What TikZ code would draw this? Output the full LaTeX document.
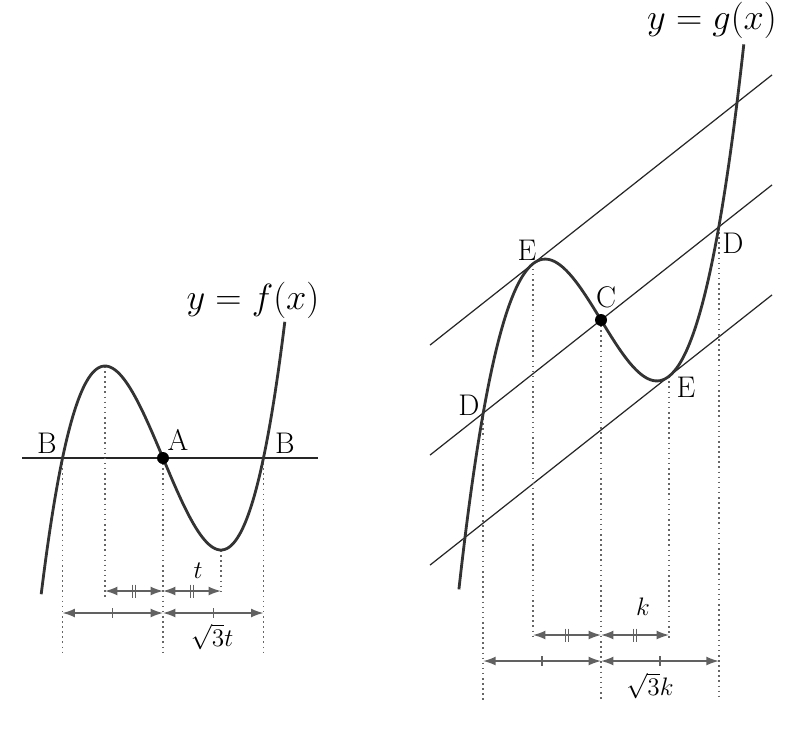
\documentclass[tikz,border=0pt]{standalone}
\usetikzlibrary{arrows.meta,calc}
\newcommand\colorCurve{black!80}
\newcommand\colorMeasure{black!62}
\newcommand\colorGuide{black!60}
\newcommand\tLen{58}
\newcommand\kLen{68}
\newcommand\gSlope{0.79}
\newcommand\tickOne[1]{
	\draw[color=\colorMeasure, line width=0.8pt] ($(#1)+(0,-5)$) to ($(#1)+(0,5)$);
}
\newcommand\tickTwo[1]{
	\draw[color=\colorMeasure, line width=0.6pt] ($(#1)+(-1.7,-6.5)$) to ($(#1)+(-1.7,6.5)$);
	\draw[color=\colorMeasure, line width=0.6pt] ($(#1)+(1.7,-6.5)$) to ($(#1)+(1.7,6.5)$);
}
\tikzset{
	declare function={fcub(\u)=\u*\u*\u-3*\u;},
	curve/.style={color=\colorCurve, line width=1.6pt},
	guide/.style={color=\colorGuide, dotted, line width=0.9pt},
	measure/.style={color=\colorMeasure, line width=0.8pt, {Latex[length=7pt,width=5pt]}-{Latex[length=7pt,width=5pt]}},
	ptlabel/.style={font=\fontsize{17}{20}\selectfont, inner sep=1pt},
	eqlabel/.style={font=\fontsize{20}{24}\selectfont, inner sep=1pt},
	lenlabel/.style={font=\fontsize{14}{17}\selectfont, inner sep=1pt}
}
\begin{document}
\begin{tikzpicture}[x=0.02cm, y=-0.02cm]
	\useasboundingbox (0,0) rectangle (800,734);

	% left: y = f(x)
	\coordinate (A) at (163,458);
	\coordinate (Bl) at ({163-1.732*\tLen},458);
	\coordinate (Br) at ({163+1.732*\tLen},458);
	\coordinate (Fmax) at ({163-\tLen},366);
	\coordinate (Fmin) at ({163+\tLen},550);
	\coordinate (axisL) at (22,458);
	\coordinate (axisR) at (318,458);

	\draw[line width=0.8pt, black!85] (axisL) to (axisR);
	\draw[guide] (Bl) to (Bl |- 0,655);
	\draw[guide] (Fmax) to (Fmax |- 0,597);
	\draw[guide] (A) to (A |- 0,655);
	\draw[guide] (Fmin) to (Fmin |- 0,592);
	\draw[guide] (Br) to (Br |- 0,655);
	\draw[curve] plot[domain=41.2:284.8, samples=120, smooth] (\x,{458-46*fcub((\x-163)/\tLen)});
	\fill (A) circle (6);

	\coordinate (rowT1) at (Fmax |- 0,591);
	\coordinate (rowT2) at (A |- 0,591);
	\coordinate (rowT3) at (Fmin |- 0,591);
	\coordinate (rowB1) at (Bl |- 0,613);
	\coordinate (rowB2) at (A |- 0,613);
	\coordinate (rowB3) at (Br |- 0,613);
	\draw[measure] (rowT1) to (rowT2);
	\draw[measure] (rowT2) to (rowT3);
	\draw[measure] (rowB1) to (rowB2);
	\draw[measure] (rowB2) to (rowB3);
	\tickTwo{$(rowT1)!0.5!(rowT2)$}
	\tickTwo{$(rowT2)!0.5!(rowT3)$}
	\tickOne{$(rowB1)!0.5!(rowB2)$}
	\tickOne{$(rowB2)!0.5!(rowB3)$}

	\node[eqlabel] (fname) at (253,300) {$y=f(x)$};
	\node[ptlabel] (labBl) at (47,443) {B};
	\node[ptlabel] (labA) at (178,440) {A};
	\node[ptlabel] (labBr) at (285,443) {B};
	\node[lenlabel] (labt) at (198,571) {$t$};
	\node[lenlabel] (labst) at (212,637) {$\sqrt{3}t$};

	% right: y = g(x)
	\coordinate (C) at (601,320);
	\coordinate (El) at ({601-\kLen},{320+\gSlope*\kLen-110});
	\coordinate (Er) at ({601+\kLen},{320-\gSlope*\kLen+110});
	\coordinate (Dl) at ({601-1.732*\kLen},{320+\gSlope*1.732*\kLen});
	\coordinate (Dr) at ({601+1.732*\kLen},{320-\gSlope*1.732*\kLen});

	\draw[line width=0.7pt, black!85] ($(El)+(-103,{\gSlope*103})$) to ($(El)+(239,{-\gSlope*239})$);
	\draw[line width=0.7pt, black!85] ($(C)+(-171,{\gSlope*171})$) to ($(C)+(171,{-\gSlope*171})$);
	\draw[line width=0.7pt, black!85] ($(Er)+(-239,{\gSlope*239})$) to ($(Er)+(103,{-\gSlope*103})$);
	\draw[guide] (Dl) to (Dl |- 0,700);
	\draw[guide] (El) to (El |- 0,640);
	\draw[guide] (C) to (C |- 0,700);
	\draw[guide] (Er) to (Er |- 0,640);
	\draw[guide] (Dr) to (Dr |- 0,700);
	\draw[curve] plot[domain=458.9:743.8, samples=120, smooth] (\x,{320-\gSlope*(\x-601)-55*fcub((\x-601)/\kLen)});
	\fill (C) circle (6);

	\coordinate (rowK1) at (El |- 0,635);
	\coordinate (rowK2) at (C |- 0,635);
	\coordinate (rowK3) at (Er |- 0,635);
	\coordinate (rowS1) at (Dl |- 0,661);
	\coordinate (rowS2) at (C |- 0,661);
	\coordinate (rowS3) at (Dr |- 0,661);
	\draw[measure] (rowK1) to (rowK2);
	\draw[measure] (rowK2) to (rowK3);
	\draw[measure] (rowS1) to (rowS2);
	\draw[measure] (rowS2) to (rowS3);
	\tickTwo{$(rowK1)!0.5!(rowK2)$}
	\tickTwo{$(rowK2)!0.5!(rowK3)$}
	\tickOne{$(rowS1)!0.5!(rowS2)$}
	\tickOne{$(rowS2)!0.5!(rowS3)$}

	\node[eqlabel] (gname) at (712,20) {$y=g(x)$};
	\node[ptlabel] (labEl) at (527,250) {E};
	\node[ptlabel] (labC) at (606,297) {C};
	\node[ptlabel] (labDr) at (733,243) {D};
	\node[ptlabel] (labDl) at (469,405) {D};
	\node[ptlabel] (labEr) at (686,387) {E};
	\node[lenlabel] (labk) at (643,607) {$k$};
	\node[lenlabel] (labsk) at (650,686) {$\sqrt{3}k$};
\end{tikzpicture}
\end{document}
